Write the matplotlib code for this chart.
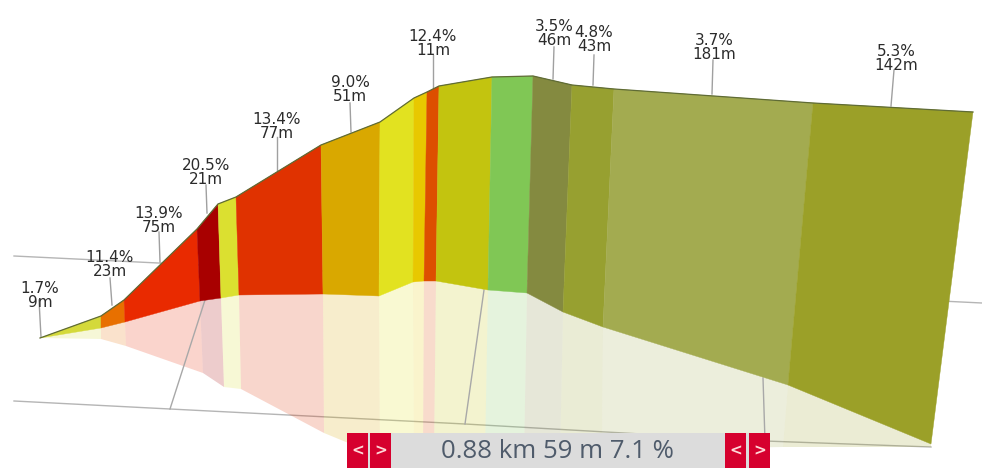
import matplotlib
matplotlib.use('Agg')
import matplotlib.pyplot as plt

# profile, in picture pixels
top_x = [40, 101, 124, 197, 218, 236, 321, 380, 414, 427, 439, 492, 533, 572, 614, 813, 973]
top_y = [338, 316, 300, 229, 204, 197, 145, 122, 98, 92, 86, 77, 76, 85, 89, 103, 112]
base_x = [40, 101, 125, 200, 221, 239, 323, 379, 413, 424, 436, 488, 527, 563, 603, 788, 931]
base_y = [338, 328, 322, 301, 298, 295, 294, 296, 282, 281, 281, 290, 293, 312, 327, 385, 444]
shadow_x = [40, 101, 126, 203, 224, 241, 324, 380, 414, 423, 434, 485, 524, 560, 602, 783, 931]
shadow_y = [338, 339, 346, 373, 387, 389, 433, 456, 456, 456, 456, 456, 456, 456, 450, 447, 447]
seg_colors = ['#d4d93a', '#e87000', '#e92a00', '#a80000', '#dbe030', '#e03200', '#d9a800', '#e2e220',
              '#e8c800', '#dd4f00', '#c3c40f', '#80c755', '#848a40', '#97a030', '#a3ab50', '#9ba028']

grade_pct = ['1.7', '11.4', '13.9', '20.5', '13.4', '9.0', '12.4', '3.5', '4.8', '3.7', '5.3']
length_m = [9, 23, 75, 21, 77, 51, 11, 46, 43, 181, 142]
label_x = [40, 110, 159, 206, 277, 350, 433, 554, 594, 714, 896]
label_y = [310, 279, 235, 187, 141, 104, 58, 48, 54, 62, 73]
leader_x0 = [41, 112, 160, 207, 277, 351, 433, 553, 593, 712, 891]
leader_y0 = [337, 305, 262, 213, 170, 132, 88, 79, 85, 94, 106]
leader_x1 = [39, 110, 159, 206, 277, 350, 433, 554, 594, 713, 894]
leader_y1 = [300, 278, 232, 185, 137, 103, 55, 47, 55, 60, 70]

# floor grid
grid_x = [[14, 982], [14, 170, 465, 765, 931], [205, 170], [484, 465], [763, 765]]
grid_y = [[256, 303], [401, 409, 424, 441, 447], [300, 409], [290, 424], [378, 441]]

readout = '0.88 km 59 m 7.1 %'
btn_left = [347, 370, 725, 749]
btn_text = ['<', '>', '<', '>']

fig = plt.figure(figsize=(9.82, 4.7), dpi=100)
ax = fig.add_axes([0, 0, 1, 1])
ax.set_xlim(0, 982)
ax.set_ylim(470, 0)
ax.axis('off')

for gx, gy in zip(grid_x[:2], grid_y[:2]):
    ax.plot(gx, gy, color='#b5b5b5', lw=1, zorder=1)

for i, c in enumerate(seg_colors):
    # shadow on the floor
    ax.fill([base_x[i], base_x[i+1], shadow_x[i+1], shadow_x[i]],
            [base_y[i], base_y[i+1], shadow_y[i+1], shadow_y[i]],
            color=c, alpha=0.2, lw=0, zorder=2)
    # wall
    ax.fill([top_x[i], top_x[i+1], base_x[i+1], base_x[i]],
            [top_y[i], top_y[i+1], base_y[i+1], base_y[i]],
            color=c, lw=0.3, zorder=3)

ax.plot(top_x, top_y, color='#5f6b35', lw=0.9, zorder=4)

for gx, gy in zip(grid_x[2:], grid_y[2:]):
    ax.plot(gx, gy, color='#a8a8a8', lw=1, zorder=2.5)

for i in range(len(grade_pct)):
    ax.plot([leader_x0[i], leader_x1[i]], [leader_y0[i], leader_y1[i]], color='#a0a0a0', lw=1, zorder=1)
    ax.text(label_x[i], label_y[i], '%s%%\n%dm' % (grade_pct[i], length_m[i]), ha='center', va='bottom',
            fontsize=11, linespacing=0.95, color='#2b2b2b', family='DejaVu Sans', zorder=5)

# readout bar
ax.fill_between([347, 770], 433, 468, color='#dcdcdc', lw=0, zorder=6)
for x, s in zip(btn_left, btn_text):
    ax.fill_between([x, x + 21], 433, 468, color='#d6002e', lw=0, zorder=7)
    ax.text(x + 10.5, 451, s, ha='center', va='center', fontsize=11, color='#ffd8d8',
            fontweight='bold', zorder=8)
ax.text(557, 451, readout, ha='center', va='center', fontsize=18.5, color='#4f5b6b',
        family='Open Sans', zorder=8)

fig.savefig('out.png', dpi=100)
